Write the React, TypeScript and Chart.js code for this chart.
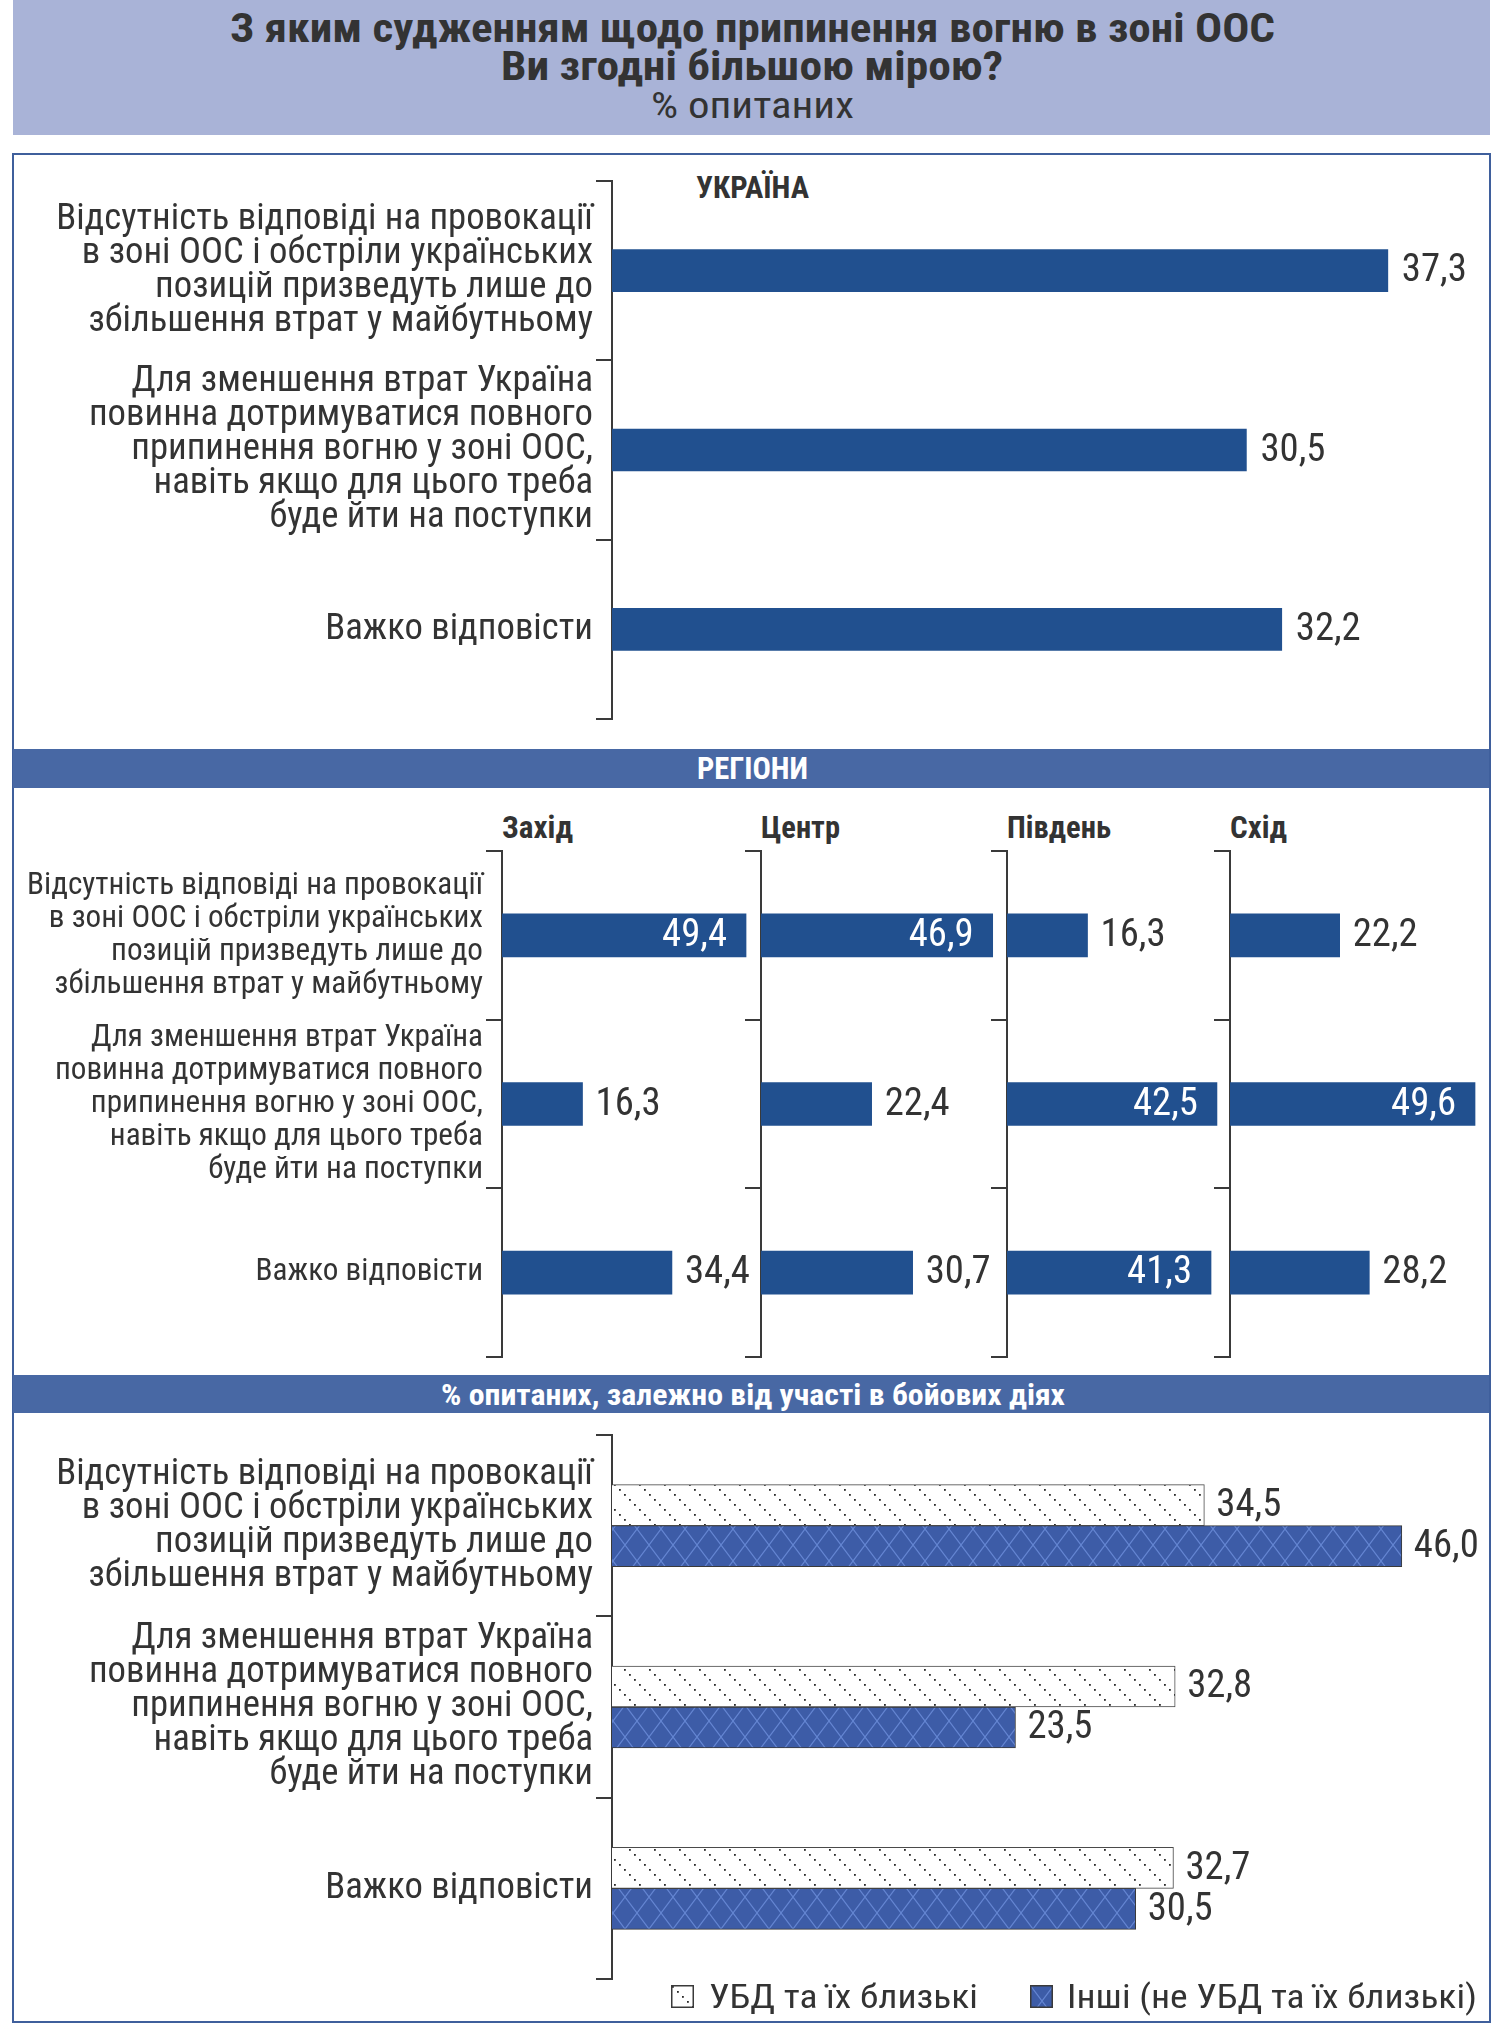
import React, { useEffect, useRef } from 'react';
import { Chart, registerables } from 'chart.js';

Chart.register(...registerables);

// ---------------- DATA ----------------
const STATEMENTS: string[][] = [
  ['Відсутність відповіді на провокації', 'в зоні ООС і обстріли українських', 'позицій призведуть лише до', 'збільшення втрат у майбутньому'],
  ['Для зменшення втрат Україна', 'повинна дотримуватися повного', 'припинення вогню у зоні ООС,', 'навіть якщо для цього треба', 'буде йти на поступки'],
  ['Важко відповісти'],
];
const UKRAINE_VALUES = [37.3, 30.5, 32.2];
const REGION_NAMES = ['Захід', 'Центр', 'Південь', 'Схід'];
const WEST_VALUES = [49.4, 16.3, 34.4];
const CENTER_VALUES = [46.9, 22.4, 30.7];
const SOUTH_VALUES = [16.3, 42.5, 41.3];
const EAST_VALUES = [22.2, 49.6, 28.2];
const UBD_SERIES = 'УБД та їх близькі';
const OTHERS_SERIES = 'Інші (не УБД та їх близькі)';
const UBD_VALUES = [34.5, 32.8, 32.7];
const OTHERS_VALUES = [46.0, 23.5, 30.5];
const TITLE_LINES = ['З яким судженням щодо припинення вогню в зоні ООС', 'Ви згодні більшою мірою?'];
const SUBTITLE = '% опитаних';
const UKRAINE_HEADER = 'УКРАЇНА';
const REGIONS_HEADER = 'РЕГІОНИ';
const COMBAT_HEADER = '% опитаних, залежно від участі в бойових діях';

// ---------------- STYLE ----------------
const TEXT = '#333333';
const AXIS = '#3a3a3a';
const BAR_BLUE = '#21508f';
const HEADER_BLUE = '#4868a4';
const TITLE_BG = '#a9b3d7';
const PANEL_BORDER = '#3f5f9c';

const measureCtx = document.createElement('canvas').getContext('2d') as CanvasRenderingContext2D;
function fontAvailable(name: string): boolean {
  const sample = 'Відсутність abcdefghijklmnopqrstuvwxyz 0123456789';
  for (const base of ['monospace', 'serif']) {
    measureCtx.font = `40px ${base}`;
    const a = measureCtx.measureText(sample).width;
    measureCtx.font = `40px "${name}", ${base}`;
    const b = measureCtx.measureText(sample).width;
    if (Math.abs(a - b) > 0.5) return true;
  }
  return false;
}
const CONDENSED = ['Liberation Sans Narrow', 'Roboto Condensed', 'DejaVu Sans Condensed', 'Arial Narrow'].find(fontAvailable);
const FAMILY = CONDENSED ? `"${CONDENSED}", "Liberation Sans", Arial, sans-serif` : `"Liberation Sans", Arial, sans-serif`;

function measure(text: string, weight: number, size: number): number {
  measureCtx.font = `${weight} ${size}px ${FAMILY}`;
  return measureCtx.measureText(text).width;
}
function fitSize(text: string, weight: number, target: number): number {
  return (100 * target) / measure(text, weight, 100);
}

const fmt = (v: number) => v.toFixed(1).replace('.', ',');

const valueLabels = {
  id: 'valueLabels',
  afterDatasetsDraw(chart: any, _args: any, opts: any) {
    const { ctx } = chart;
    chart.data.datasets.forEach((ds: any, di: number) => {
      const meta = chart.getDatasetMeta(di);
      meta.data.forEach((bar: any, i: number) => {
        const v = ds.data[i] as number;
        const text = fmt(v);
        ctx.save();
        ctx.font = `400 ${opts.size}px ${FAMILY}`;
        ctx.textBaseline = 'middle';
        const inside = opts.insideAbove != null && v > opts.insideAbove;
        if (inside) {
          ctx.fillStyle = '#ffffff';
          ctx.textAlign = 'right';
          ctx.fillText(text, bar.x - opts.insidePad, bar.y + 1);
        } else {
          ctx.fillStyle = TEXT;
          ctx.textAlign = 'left';
          ctx.fillText(text, bar.x + opts.outsidePad, bar.y + 1);
        }
        ctx.restore();
      });
    });
  },
};

function makePatternDots(): CanvasPattern {
  const c = document.createElement('canvas');
  c.width = 25; c.height = 25;
  const g = c.getContext('2d') as CanvasRenderingContext2D;
  g.fillStyle = '#ffffff';
  g.fillRect(0, 0, 25, 25);
  g.fillStyle = '#2a2a2a';
  for (let i = 0; i < 5; i++) g.fillRect(i * 5 + 1, i * 5 + 1, 1.8, 1.8);
  return g.createPattern(c, 'repeat') as CanvasPattern;
}
function makePatternCross(): CanvasPattern {
  const c = document.createElement('canvas');
  c.width = 24; c.height = 32;
  const g = c.getContext('2d') as CanvasRenderingContext2D;
  g.fillStyle = '#3d5ca7';
  g.fillRect(0, 0, 24, 32);
  g.strokeStyle = '#6586d2';
  g.lineWidth = 1.2;
  g.beginPath();
  g.moveTo(0, 0); g.lineTo(24, 32);
  g.moveTo(24, 0); g.lineTo(0, 32);
  g.stroke();
  return g.createPattern(c, 'repeat') as CanvasPattern;
}

interface ChartCfg {
  labels: string[][];
  datasets: any[];
  axisWidth: number;
  xMax: number;
  tickSize: number;
  lineHeight: number;
  showLabels: boolean;
  valueSize: number;
  insideAbove?: number;
  outsidePad: number;
  insidePad?: number;
}

function makeChart(canvas: HTMLCanvasElement, cfg: ChartCfg): Chart {
  return new Chart(canvas, {
    type: 'bar',
    data: { labels: cfg.labels as any, datasets: cfg.datasets },
    options: {
      indexAxis: 'y',
      animation: false,
      responsive: false,
      maintainAspectRatio: false,
      layout: { padding: { top: 2, bottom: 2, left: 0, right: 0 } },
      plugins: {
        legend: { display: false },
        tooltip: { enabled: false },
        valueLabels: {
          size: cfg.valueSize,
          insideAbove: cfg.insideAbove,
          outsidePad: cfg.outsidePad,
          insidePad: cfg.insidePad ?? 18,
        },
      } as any,
      scales: {
        x: { display: false, min: 0, max: cfg.xMax },
        y: {
          afterFit: (s: any) => {
            s.width = cfg.axisWidth;
            s.paddingTop = 0;
            s.paddingBottom = 0;
          },
          border: { display: true, color: AXIS, width: 2 },
          grid: {
            offset: true,
            drawOnChartArea: false,
            drawTicks: true,
            tickLength: 16,
            tickWidth: 2,
            tickColor: AXIS,
            color: AXIS,
            lineWidth: 2,
          },
          ticks: {
            display: cfg.showLabels,
            color: TEXT,
            padding: 3,
            autoSkip: false,
            font: { family: FAMILY, size: cfg.tickSize, lineHeight: `${cfg.lineHeight}px` as any },
          },
        },
      },
    },
    plugins: [valueLabels as any],
  });
}

function ScaledText(props: { text: string; x: number; cy: number; size: number; weight: number; color: string; width: number; anchor: 'left' | 'center' }) {
  const { text, x, cy, size, weight, color, width, anchor } = props;
  const natural = measure(text, weight, size);
  const k = width / natural;
  const left = anchor === 'center' ? x - width / 2 : x;
  const lh = Math.round(size * 1.3);
  return (
    <div
      style={{
        position: 'absolute',
        left,
        top: cy - lh / 2,
        height: lh,
        lineHeight: `${lh}px`,
        fontSize: size,
        fontWeight: weight,
        fontFamily: FAMILY,
        color,
        whiteSpace: 'nowrap',
        transform: `scaleX(${k})`,
        transformOrigin: '0 50%',
      }}
    >
      {text}
    </div>
  );
}

// layout constants (px)
const PANEL_L = 13;
const PANEL_R = 1489;
const S1_AXIS = 612;
const S1_TOP = 181;
const S1_BOTTOM = 719;
const S1_PPU = 20.8;
const REG_AXES = [502, 761, 1007, 1230];
const REG_TOP = 851;
const REG_BOTTOM = 1357;
const REG_PPU = 4.95;
const REG_MAX = 50;
const S3_TOP = 1435;
const S3_BOTTOM = 1979;
const S3_PPU = 17.17;
const REG_SIDE = 20;

export default function App() {
  const c1 = useRef<HTMLCanvasElement>(null);
  const r0 = useRef<HTMLCanvasElement>(null);
  const r1 = useRef<HTMLCanvasElement>(null);
  const r2 = useRef<HTMLCanvasElement>(null);
  const r3 = useRef<HTMLCanvasElement>(null);
  const c3 = useRef<HTMLCanvasElement>(null);
  const sw1 = useRef<HTMLCanvasElement>(null);
  const sw2 = useRef<HTMLCanvasElement>(null);

  const s1Width = PANEL_R - 3 - PANEL_L;
  const s1AxisW = S1_AXIS - PANEL_L;
  const regArea = REG_MAX * REG_PPU;

  const labelSize1 = fitSize(STATEMENTS[0][0], 400, 537);
  const labelSizeReg = fitSize(STATEMENTS[0][0], 400, 456);
  const valueSize = fitSize('37,3', 400, 65);

  useEffect(() => {
    const charts: Chart[] = [];
    const dots = makePatternDots();
    const cross = makePatternCross();

    charts.push(
      makeChart(c1.current!, {
        labels: STATEMENTS,
        datasets: [{ data: UKRAINE_VALUES, backgroundColor: BAR_BLUE, barThickness: 42 }],
        axisWidth: s1AxisW,
        xMax: (s1Width - s1AxisW) / S1_PPU,
        tickSize: labelSize1,
        lineHeight: 34,
        showLabels: true,
        valueSize,
        outsidePad: 14,
      })
    );

    const regData = [WEST_VALUES, CENTER_VALUES, SOUTH_VALUES, EAST_VALUES];
    [r0, r1, r2, r3].forEach((ref, i) => {
      charts.push(
        makeChart(ref.current!, {
          labels: STATEMENTS,
          datasets: [{ data: regData[i], backgroundColor: BAR_BLUE, barThickness: 43 }],
          axisWidth: i === 0 ? REG_AXES[0] - PANEL_L : REG_SIDE,
          xMax: REG_MAX,
          tickSize: labelSizeReg,
          lineHeight: 33,
          showLabels: i === 0,
          valueSize,
          insideAbove: 40,
          outsidePad: 13,
          insidePad: 19,
        })
      );
    });

    charts.push(
      makeChart(c3.current!, {
        labels: STATEMENTS,
        datasets: [
          { label: UBD_SERIES, data: UBD_VALUES, backgroundColor: dots, borderColor: '#4a4a4a', borderWidth: 1, barThickness: 41 },
          { label: OTHERS_SERIES, data: OTHERS_VALUES, backgroundColor: cross, borderColor: '#3a3a3a', borderWidth: 1, barThickness: 41 },
        ],
        axisWidth: s1AxisW,
        xMax: (s1Width - s1AxisW) / S3_PPU,
        tickSize: labelSize1,
        lineHeight: 34,
        showLabels: true,
        valueSize,
        outsidePad: 12,
      })
    );

    // legend swatches
    [[sw1, dots], [sw2, cross]].forEach(([ref, pat]: any) => {
      const cv = ref.current as HTMLCanvasElement;
      const g = cv.getContext('2d') as CanvasRenderingContext2D;
      g.fillStyle = pat;
      g.fillRect(0, 0, cv.width, cv.height);
      g.strokeStyle = '#3a3a3a';
      g.lineWidth = 1.5;
      g.strokeRect(0.75, 0.75, cv.width - 1.5, cv.height - 1.5);
    });

    return () => charts.forEach((c) => c.destroy());
  }, []);

  const regNameWidths = [71, 79, 104, 57];

  return (
    <div style={{ position: 'absolute', left: 0, top: 0, width: 1506, height: 2028, background: '#ffffff', overflow: 'hidden' }}>
      {/* Title block */}
      <div style={{ position: 'absolute', left: PANEL_L, top: 0, width: PANEL_R - PANEL_L + 1, height: 135, background: TITLE_BG }} />
      <ScaledText text={TITLE_LINES[0]} x={752} cy={29} size={40} weight={700} color={TEXT} width={1045} anchor="center" />
      <ScaledText text={TITLE_LINES[1]} x={752} cy={67} size={40} weight={700} color={TEXT} width={502} anchor="center" />
      <ScaledText text={SUBTITLE} x={752} cy={106} size={36} weight={400} color={TEXT} width={203} anchor="center" />

      {/* Panel */}
      <div style={{ position: 'absolute', left: 12, top: 153, width: PANEL_R - 12 + 2, height: 2023 - 153, border: `2px solid ${PANEL_BORDER}`, boxSizing: 'border-box' }} />

      {/* Section 1 */}
      <ScaledText text={UKRAINE_HEADER} x={696} cy={187} size={32} weight={700} color={TEXT} width={113} anchor="left" />
      <canvas ref={c1} width={s1Width} height={S1_BOTTOM - S1_TOP + 4} style={{ position: 'absolute', left: PANEL_L, top: S1_TOP - 2 }} />

      {/* Regions header */}
      <div style={{ position: 'absolute', left: PANEL_L, top: 749, width: PANEL_R - PANEL_L, height: 39, background: HEADER_BLUE }} />
      <ScaledText text={REGIONS_HEADER} x={752} cy={769} size={31} weight={700} color="#ffffff" width={111} anchor="center" />
      {REGION_NAMES.map((n, i) => (
        <ScaledText key={n} text={n} x={REG_AXES[i]} cy={828} size={31} weight={700} color={TEXT} width={regNameWidths[i]} anchor="left" />
      ))}
      <canvas ref={r0} width={REG_AXES[0] - PANEL_L + regArea} height={REG_BOTTOM - REG_TOP + 4} style={{ position: 'absolute', left: PANEL_L, top: REG_TOP - 2 }} />
      <canvas ref={r1} width={REG_SIDE + regArea} height={REG_BOTTOM - REG_TOP + 4} style={{ position: 'absolute', left: REG_AXES[1] - REG_SIDE, top: REG_TOP - 2 }} />
      <canvas ref={r2} width={REG_SIDE + regArea} height={REG_BOTTOM - REG_TOP + 4} style={{ position: 'absolute', left: REG_AXES[2] - REG_SIDE, top: REG_TOP - 2 }} />
      <canvas ref={r3} width={REG_SIDE + regArea} height={REG_BOTTOM - REG_TOP + 4} style={{ position: 'absolute', left: REG_AXES[3] - REG_SIDE, top: REG_TOP - 2 }} />

      {/* Section 3 header */}
      <div style={{ position: 'absolute', left: PANEL_L, top: 1375, width: PANEL_R - PANEL_L, height: 38, background: HEADER_BLUE }} />
      <ScaledText text={COMBAT_HEADER} x={753} cy={1395} size={29} weight={700} color="#ffffff" width={624} anchor="center" />
      <canvas ref={c3} width={s1Width} height={S3_BOTTOM - S3_TOP + 4} style={{ position: 'absolute', left: PANEL_L, top: S3_TOP - 2 }} />

      {/* Legend */}
      <canvas ref={sw1} width={23} height={23} style={{ position: 'absolute', left: 671, top: 1985 }} />
      <ScaledText text={UBD_SERIES} x={709} cy={1996} size={33} weight={400} color={TEXT} width={269} anchor="left" />
      <canvas ref={sw2} width={23} height={23} style={{ position: 'absolute', left: 1030, top: 1985 }} />
      <ScaledText text={OTHERS_SERIES} x={1067} cy={1996} size={33} weight={400} color={TEXT} width={410} anchor="left" />
    </div>
  );
}
